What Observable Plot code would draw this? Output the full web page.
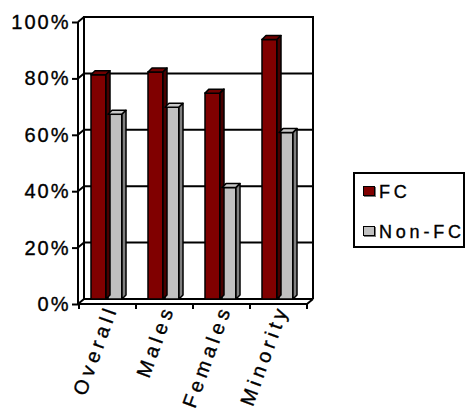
<!DOCTYPE html>
<html><head><meta charset="utf-8">
<script src="https://cdn.jsdelivr.net/npm/d3@7"></script>
<script src="https://cdn.jsdelivr.net/npm/@observablehq/plot@0.6"></script>
<style>
body{margin:0;background:#fff;}
#chart{position:relative;width:468px;height:410px;overflow:hidden;font-family:"Liberation Sans",Arial,sans-serif;}
#chart svg{position:absolute;left:0;top:0;}
#chart svg text{stroke:#000;stroke-width:0.35px;}
g[aria-label="x-axis tick label"] text{letter-spacing:4.5px;}
g[aria-label="y-axis tick label"] text{letter-spacing:2px;}
#legend{position:absolute;left:353px;top:172px;width:108px;height:72px;border:2px solid #000;background:#fff;}
.item{position:absolute;left:0;height:20px;font-size:18px;letter-spacing:3.8px;line-height:20px;color:#000;-webkit-text-stroke:0.35px #000;}
.sw{position:absolute;left:8px;top:4px;width:10px;height:8px;border:1.5px solid #000;box-shadow:1px 1px 0 #777;}
.lab{position:absolute;left:24px;top:0;white-space:nowrap;}
</style></head>
<body><div id="chart"></div>
<script>
const categories = ["Overall", "Males", "Females", "Minority"];
const seriesNames = ["FC", "Non-FC"];
const fcValues = [79.5, 80.5, 73, 92];
const nonFcValues = [65.5, 68, 39.5, 59];
const yTicks = [0, 20, 40, 60, 80, 100];
const colors = {"FC": "#800000", "Non-FC": "#c0c0c0"};
const sideColors = {"FC": "#480000", "Non-FC": "#808080"};
const topColors = {"FC": "#700000", "Non-FC": "#c8c8c8"};

const data = [];
categories.forEach((c, i) => {
  data.push({category: c, series: "FC", value: fcValues[i]});
  data.push({category: c, series: "Non-FC", value: nonFcValues[i]});
});

const W = 468, H = 410;
const M = {top: 17, bottom: 111, left: 84, right: 155};
const DX = 6, DY = 5, D = 4;
const bandW = (W - M.left - M.right) / categories.length;
const insets = {"FC": {l: 6, r: bandW - 21}, "Non-FC": {l: 23, r: bandW - 37}};

function walls(index, scales, values, dims) {
  const {x, y} = scales;
  const L = dims.marginLeft, R = dims.width - dims.marginRight, T = dims.marginTop, B = dims.height - dims.marginBottom;
  const g = d3.create("svg:g").attr("fill", "none").attr("stroke", "#000").attr("stroke-width", 2);
  g.append("path").attr("d", `M${L},${B}V${T}H${R}V${B}`);
  for (const t of yTicks) {
    g.append("path").attr("d", `M${L - DX},${y(t) + DY}L${L},${y(t)}H${R}`);
  }
  g.append("path").attr("d", `M${L - DX},${y(100) + DY}V${B + DY}H${R - DX}L${R},${B}`);
  const bounds = categories.map(c => x(c)).concat([R]);
  for (const b of bounds) {
    g.append("path").attr("d", `M${b - DX},${B + DY}v5`);
  }
  return g.node();
}

function faces(index, scales, values, dims) {
  const {x, y} = scales;
  const g = d3.create("svg:g").attr("stroke", "#000").attr("stroke-width", 1.5).attr("stroke-linejoin", "round");
  for (const d of data) {
    const ins = insets[d.series];
    const left = x(d.category) + ins.l;
    const w = bandW - ins.l - ins.r;
    const top = y(d.value), base = y(0);
    g.append("path").attr("fill", topColors[d.series])
      .attr("d", `M${left},${top}L${left + D},${top - D}H${left + w + D}L${left + w},${top}Z`);
    g.append("path").attr("fill", sideColors[d.series])
      .attr("d", `M${left + w},${top}L${left + w + D},${top - D}V${base - D}L${left + w},${base}Z`);
  }
  return g.node();
}

const bars = seriesNames.map(s => Plot.barY(data.filter(d => d.series === s), {
  x: "category", y: "value", fill: colors[s], stroke: "#000", strokeWidth: 1.5,
  insetLeft: insets[s].l, insetRight: insets[s].r
}));

const chart = Plot.plot({
  width: W, height: H,
  marginTop: M.top, marginBottom: M.bottom, marginLeft: M.left, marginRight: M.right,
  style: {fontFamily: "'Liberation Sans', Arial, sans-serif", background: "transparent", overflow: "visible"},
  x: {type: "band", domain: categories, padding: 0, label: null, axis: null},
  y: {domain: [0, 100], label: null, axis: null},
  marks: [
    walls,
    ...bars,
    faces,
    Plot.axisY({ticks: yTicks, tickFormat: d => d + "%", tickSize: 6, tickPadding: 2, dx: -DX, dy: DY, fontSize: 20, strokeWidth: 2, label: null, color: "#000"}),
    Plot.axisX({tickRotate: -70, tickSize: 0, tickPadding: 6, dx: -2, fontSize: 20, label: null, color: "#000"})
  ]
});
const root = document.getElementById("chart");
root.appendChild(chart);

const legend = document.createElement("div");
legend.id = "legend";
seriesNames.forEach((s, i) => {
  const item = document.createElement("div");
  item.className = "item";
  item.style.top = (8 + i * 40) + "px";
  item.style.width = "100%";
  const sw = document.createElement("div");
  sw.className = "sw";
  sw.style.background = colors[s];
  const lab = document.createElement("div");
  lab.className = "lab";
  lab.textContent = s;
  item.appendChild(sw); item.appendChild(lab);
  legend.appendChild(item);
});
root.appendChild(legend);
</script>
</body></html>
